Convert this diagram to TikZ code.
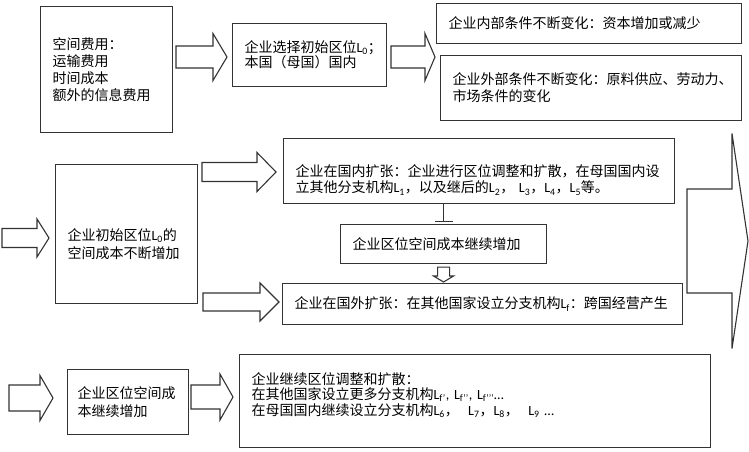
\documentclass[tikz,border=0pt]{standalone}
\usepackage{fontspec}
\setmainfont{Noto Sans CJK SC}
\newfontfamily\latinfont{Carlito}
\usepackage{tikz}
\usetikzlibrary{
  arrows.meta,
  calc,
  positioning
}
\newcommand\Lsub[1]{{\latinfont L\textsubscript{#1}}}
\newcommand\tightlines{\lineskiplimit=-6pt\relax}

\begin{document}
\begin{tikzpicture}[
      x=1pt, y=-1pt,
      font=\fontsize{14}{17}\selectfont\tightlines,
      box/.style n args={3}{
         rectangle,
         draw=black!80,
         line width=1.1pt,
         anchor=north west,
         minimum width=#1pt,
         minimum height=#2pt,
         text width=#3pt,
         inner xsep=12pt,
         inner ysep=0pt,
         align=left
      },
      fat/.style n args={3}{
         draw=black!80, line width=1.1pt,
         to path={
           ($(\tikztostart)+(0,#1)$) -- ($(\tikztotarget)+(-#3,#1)$)
           -- ($(\tikztotarget)+(-#3,#2)$) -- (\tikztotarget)
           -- ($(\tikztotarget)+(-#3,-#2)$) -- ($(\tikztotarget)+(-#3,-#1)$)
           -- ($(\tikztostart)+(0,-#1)$) -- cycle}
      },
      fat down/.style n args={3}{
         draw=black!80, line width=1.1pt,
         to path={
           ($(\tikztostart)+(-#1,0)$) -- ($(\tikztotarget)+(-#1,-#3)$)
           -- ($(\tikztotarget)+(-#2,-#3)$) -- (\tikztotarget)
           -- ($(\tikztotarget)+(#2,-#3)$) -- ($(\tikztotarget)+(#1,-#3)$)
           -- ($(\tikztostart)+(#1,0)$) -- cycle}
      },
      tbar/.style={
         draw=black!80, line width=1.1pt,
         -{Bar[width=18pt,line width=1.1pt]}
      }
    ]
    \useasboundingbox (0,0) rectangle (749,451);
    % first row
    \node[box={132}{126}{108}] (n11) at (40,6) {空间费用：\\运输费用\\时间成本\\额外的信息费用};
    \node[box={154}{63}{130}, font=\fontsize{14}{15}\selectfont\tightlines] (n12) at (232,23) {企业选择初始区位\Lsub{0}；\\本国（母国）国内};
    \node[box={305}{40}{281}] (n13) at (436,3) {企业内部条件不断变化：资本增加或减少};
    \node[box={301}{65}{277}] (n14) at (440,55) {企业外部条件不断变化：原料供应、劳动力、\\市场条件的变化};
    % second row
    \node[box={142}{139}{118}, text height=32pt, font=\fontsize{14}{18}\selectfont\tightlines] (n21) at (55,164) {企业初始区位\Lsub{0}的\\空间成本不断增加};
    \node[box={391}{65}{367}, text height=30pt, font=\fontsize{14}{16}\selectfont\tightlines] (n22) at (283,138) {企业在国内扩张：企业进行区位调整和扩散，在母国国内设\\立其他分支机构\Lsub{1}，以及继后的\Lsub{2}，\ \Lsub{3}，\Lsub{4}，\Lsub{5}等。};
    \node[box={206}{39}{182}] (n23) at (340,224) {企业区位空间成本继续增加};
    \node[box={400}{41}{376}] (n24) at (282,283) {企业在国外扩张：在其他国家设立分支机构\Lsub{f}：跨国经营产生};
    % third row
    \node[box={121}{65}{101}, inner xsep=10pt, font=\fontsize{14}{18}\selectfont\tightlines] (n31) at (67,369) {企业区位空间成\\本继续增加};
    \node[box={471}{93}{447}, text depth=46pt, font=\fontsize{14}{15.5}\selectfont\tightlines] (n32) at (239,354) {企业继续区位调整和扩散：\\在其他国家设立更多分支机构\Lsub{f’}{\latinfont, }\Lsub{f’’}{\latinfont, }\Lsub{f’’’}{\latinfont…}\\在母国国内继续设立分支机构\Lsub{6}，\ \ \Lsub{7}，\Lsub{8}，\ \ \Lsub{9} {\latinfont…}};
    % arrow ends
    \coordinate (a1s) at (176,57);  \coordinate (a1e) at (227,57);
    \coordinate (a2s) at (391,57);  \coordinate (a2e) at (435,57);
    \coordinate (a3s) at (2,238);   \coordinate (a3e) at (49,238);
    \coordinate (a4s) at (202,172); \coordinate (a4e) at (276,172);
    \coordinate (a5s) at (203,302); \coordinate (a5e) at (279,302);
    \coordinate (a6s) at (9,398);   \coordinate (a6e) at (53,398);
    \coordinate (a7s) at (191,397); \coordinate (a7e) at (233,397);
    \coordinate (a8s) at (687,241); \coordinate (a8e) at (748,241);
    \coordinate (d1s) at ([yshift=-3pt]n23.south);
    \coordinate (d1e) at ([yshift=1pt]n24.north -| n23.south);
    \draw[fat={11}{23.5}{14}] (a1s) to (a1e);
    \draw[fat={11}{23.5}{10}] (a2s) to (a2e);
    \draw[fat={9.5}{19}{12}] (a3s) to (a3e);
    \draw[fat={9.5}{19.5}{19}] (a4s) to (a4e);
    \draw[fat={9}{19}{19}] (a5s) to (a5e);
    \draw[fat={13}{22.5}{13}] (a6s) to (a6e);
    \draw[fat={12}{23}{13}] (a7s) to (a7e);
    \draw[fat={52}{107.5}{16}] (a8s) to (a8e);
    \draw[tbar] (n22.south -| n23.north) -- ([yshift=2pt]n23.north);
    \draw[fat down={6}{10}{6}] (d1s) to (d1e);
\end{tikzpicture}
\end{document}
